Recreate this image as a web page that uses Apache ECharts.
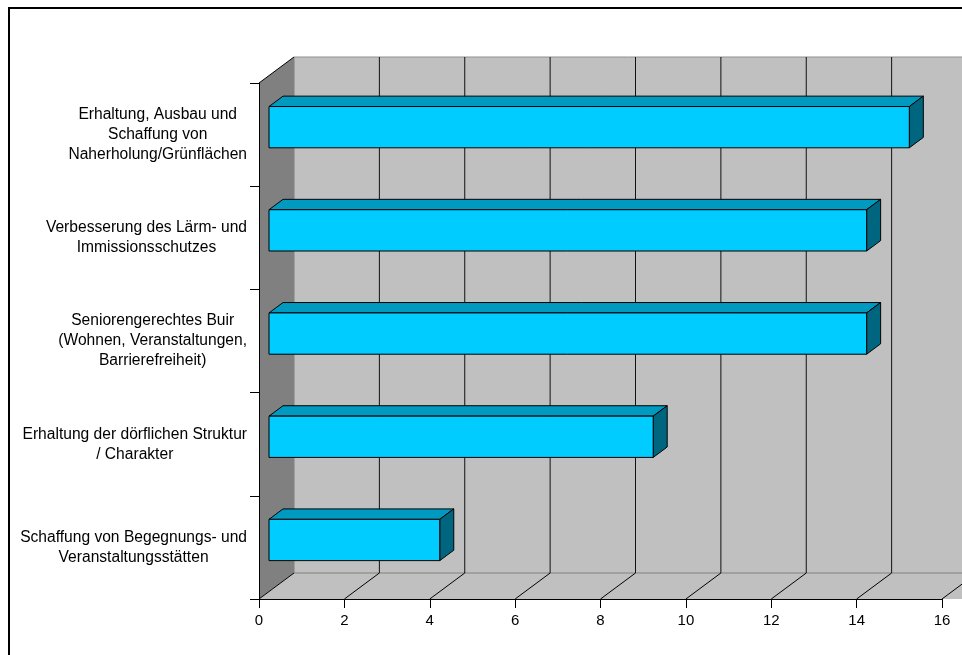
<!DOCTYPE html>
<html>
<head>
<meta charset="utf-8">
<script src="https://cdn.jsdelivr.net/npm/echarts@6/dist/echarts.min.js"></script>
<style>
html,body{margin:0;padding:0;background:#fff;}
#chart{width:962px;height:655px;}
</style>
</head>
<body>
<div id="chart"></div>
<script>
// ---- data ----
var categories = [
  "Erhaltung, Ausbau und\nSchaffung von\nNaherholung/Grünflächen",
  "Verbesserung des Lärm- und\nImmissionsschutzes",
  "Seniorengerechtes Buir\n(Wohnen, Veranstaltungen,\nBarrierefreiheit)",
  "Erhaltung der dörflichen Struktur\n/ Charakter",
  "Schaffung von Begegnungs- und\nVeranstaltungsstätten"
];
var values = [15, 14, 14, 9, 4];
var xTicks = [0, 2, 4, 6, 8, 10, 12, 14, 16];

// ---- 3D styling constants ----
var DX = 35, DY = -26;          // depth offset of back wall
var D1 = 10 / 35, D2 = 24 / 35; // bar front / back depth fraction
var BAR_FRAC = 0.4;             // bar thickness relative to band
var FONT = "'Liberation Sans', Arial, sans-serif";

var chart = echarts.init(document.getElementById('chart'), null, {renderer: 'canvas'});

function wallsRender(params, api) {
  var cs = params.coordSys;
  var x = cs.x, y = cs.y, w = cs.width, h = cs.height;
  var bottom = y + h, xr = x + w;
  var far = xr + DX + 200;
  var children = [];
  children.push({type: 'polygon', shape: {points: [[x, y], [x + DX, y + DY], [x + DX, bottom + DY], [x, bottom]]},
    style: {fill: '#808080'}});
  children.push({type: 'rect', shape: {x: x + DX, y: y + DY, width: far - (x + DX), height: h},
    style: {fill: '#C0C0C0'}});
  children.push({type: 'polygon', shape: {points: [[x, bottom], [x + DX, bottom + DY], [far, bottom + DY], [far - DX, bottom]]},
    style: {fill: '#C0C0C0'}});
  children.push({type: 'line', shape: {x1: x + DX, y1: bottom + DY, x2: far, y2: bottom + DY}, style: {stroke: '#808080', lineWidth: 1}});
  children.push({type: 'line', shape: {x1: x + DX, y1: y + DY, x2: x + DX, y2: bottom + DY}, style: {stroke: '#808080', lineWidth: 1}});
  children.push({type: 'line', shape: {x1: x + DX, y1: y + DY, x2: far, y2: y + DY}, style: {stroke: '#909090', lineWidth: 1}});
  children.push({type: 'line', shape: {x1: x, y1: y, x2: x + DX, y2: y + DY}, style: {stroke: '#000', lineWidth: 1}});
  for (var i = 0; i < xTicks.length; i++) {
    var cx = api.coord([xTicks[i], 0])[0];
    if (xTicks[i] !== 0) {
      children.push({type: 'line', shape: {x1: cx + DX, y1: y + DY, x2: cx + DX, y2: bottom + DY},
        style: {stroke: '#111', lineWidth: 1}});
    }
    children.push({type: 'line', shape: {x1: cx, y1: bottom, x2: cx + DX, y2: bottom + DY},
      style: {stroke: '#000', lineWidth: 1}});
  }
  return {type: 'group', children: children};
}

function barRender(params, api) {
  var idx = api.value(0);
  var val = api.value(1);
  var p0 = api.coord([0, idx]);
  var p1 = api.coord([val, idx]);
  var band = api.size([0, 1])[1];
  var hh = band * BAR_FRAC / 2;
  var fx0 = p0[0] + D1 * DX, fx1 = p1[0] + D1 * DX;
  var fcy = p0[1] + D1 * DY;
  var bx0 = p0[0] + D2 * DX, bx1 = p1[0] + D2 * DX;
  var bcy = p0[1] + D2 * DY;
  var ft = fcy - hh, fb = fcy + hh, bt = bcy - hh, bb = bcy + hh;
  var edge = {stroke: '#000', lineWidth: 1, lineJoin: 'round'};
  return {type: 'group', children: [
    {type: 'polygon', shape: {points: [[fx0, ft], [bx0, bt], [bx1, bt], [fx1, ft]]},
      style: Object.assign({fill: '#0099BF'}, edge)},
    {type: 'polygon', shape: {points: [[fx1, ft], [bx1, bt], [bx1, bb], [fx1, fb]]},
      style: Object.assign({fill: '#006680'}, edge)},
    {type: 'rect', shape: {x: fx0, y: ft, width: fx1 - fx0, height: fb - ft},
      style: Object.assign({fill: '#00CCFF'}, edge)}
  ]};
}

var barData = values.map(function (v, i) { return [i, v]; });

var option = {
  animation: false,
  backgroundColor: '#fff',
  grid: {left: 259, top: 83, right: 20, bottom: 56, containLabel: false},
  xAxis: {
    type: 'value', min: 0, max: 16, interval: 2, z: 5,
    axisLine: {show: true, lineStyle: {color: '#000', width: 1}},
    axisTick: {show: true, length: 9, lineStyle: {color: '#000'}},
    axisLabel: {color: '#000', fontSize: 15, fontFamily: FONT, margin: 14,
      formatter: function (v) { return xTicks.indexOf(v) >= 0 ? String(v) : ''; }},
    splitLine: {show: false}
  },
  yAxis: {
    type: 'category', inverse: true, data: categories, z: 5,
    axisLine: {show: true, lineStyle: {color: '#000', width: 1}},
    axisTick: {show: true, length: 9, lineStyle: {color: '#000'}},
    axisLabel: {
      margin: 12, color: '#000', fontSize: 15.6, fontFamily: FONT, lineHeight: 20,
      formatter: function (v) {
        return v.split('\n').map(function (s) { return '{c|' + s + '}'; }).join('\n');
      },
      rich: {c: {align: 'center', fontSize: 15.6, lineHeight: 20, fontFamily: FONT, color: '#000'}}
    },
    splitLine: {show: false}
  },
  graphic: [{
    type: 'rect', z: 100, silent: true,
    shape: {x: 9, y: 8, width: 1200, height: 900},
    style: {fill: 'none', stroke: '#000', lineWidth: 2}
  }],
  series: [
    {type: 'custom', z: 1, silent: true, renderItem: wallsRender, data: [[0, 0]], clip: false},
    {type: 'custom', z: 6, renderItem: barRender, data: barData, clip: false,
      encode: {x: 1, y: 0}}
  ]
};
chart.setOption(option);
</script>
</body>
</html>
